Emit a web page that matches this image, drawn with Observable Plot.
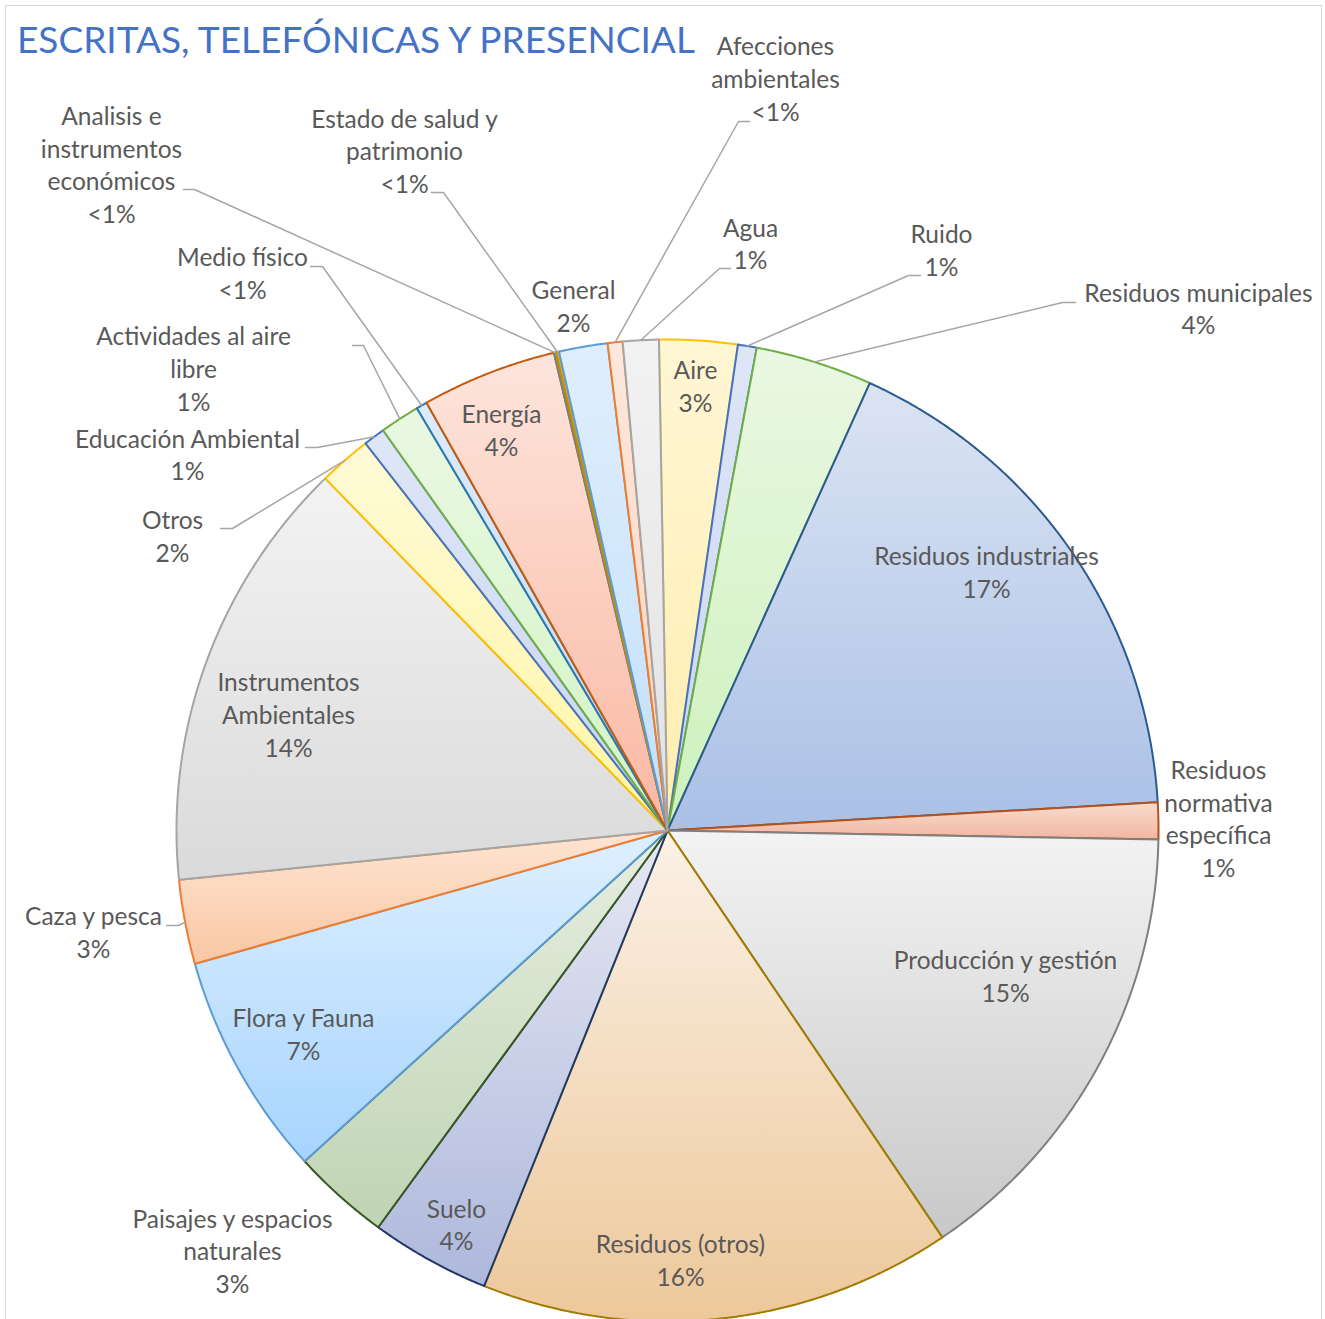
<!DOCTYPE html>
<html>
<head>
<meta charset="utf-8">
<script src="https://cdn.jsdelivr.net/npm/d3@7"></script>
<script src="https://cdn.jsdelivr.net/npm/@observablehq/plot@0.6"></script>
<style>
  body { margin: 0; background: #fff; }
  #wrap { position: relative; width: 1325px; height: 1319px; overflow: hidden; background: #fff; }
  #border { position: absolute; left: 5px; top: 5px; width: 1317px; height: 1340px; border: 1px solid #d9d9d9; box-sizing: border-box; }
  #chart { position: absolute; left: 0; top: 0; }
  #title { position: absolute; left: 17px; top: 20px; font-family: Lato, sans-serif; font-weight: 400; font-size: 37px; color: #4472C4; white-space: nowrap; line-height: 1; }
</style>
</head>
<body>
<div id="wrap">
  <div id="border"></div>
  <div id="chart"></div>
  <div id="title">ESCRITAS, TELEFÓNICAS Y PRESENCIAL</div>
</div>
<script>
// ---- data (clockwise from the top) ----
const categories = [
  "Aire", "Ruido", "Residuos municipales", "Residuos industriales",
  "Residuos normativa específica", "Producción y gestión", "Residuos (otros)",
  "Suelo", "Paisajes y espacios naturales", "Flora y Fauna", "Caza y pesca",
  "Instrumentos Ambientales", "Otros", "Educación Ambiental",
  "Actividades al aire libre", "Medio físico", "Energía",
  "Analisis e instrumentos económicos", "Estado de salud y patrimonio",
  "General", "Afecciones ambientales", "Agua"
];
const values = [
  2.57, 0.62, 3.85, 17.33,
  1.21, 15.26, 15.55,
  3.94, 3.21, 7.39, 2.78,
  14.33, 1.73, 0.71,
  1.31, 0.36, 4.45,
  0.07, 0.10,
  1.60, 0.49, 1.18
];

// ---- styles ----
const strokes = [
  "#FFC000", "#4472C4", "#70AD47", "#2A5A8E",
  "#B5521B", "#7F7F7F", "#A07C00",
  "#203864", "#385723", "#5B9BD5", "#ED7D31",
  "#A5A5A5", "#FFC000", "#4472C4",
  "#70AD47", "#2E75B6", "#C55A11",
  "#7F7F7F", "#BF9000",
  "#5B9BD5", "#ED7D31", "#A5A5A5"
];
const gradTop = [
  "#FFF6D4", "#DEE6F6", "#EAF8E2", "#DCE4F3",
  "#F9DCD0", "#F3F3F3", "#FBF1E6",
  "#E6E8F3", "#E7EEE1", "#DFF0FE", "#FEE5D3",
  "#F3F3F3", "#FFFAD6", "#DEE6F6",
  "#EAF8E2", "#DCEBFA", "#FDE5DC",
  "#D9D9D9", "#D9B43A",
  "#DFEEFC", "#FDE7DC", "#F2F2F2"
];
const gradBottom = [
  "#FFEEB0", "#C8D5F3", "#CDF1BC", "#A9C0E6",
  "#F2B6A0", "#C8C8C8", "#EDC89A",
  "#AEB8DC", "#BFD4B3", "#A6D4FF", "#F9C7A3",
  "#DADADA", "#FFF6A6", "#C8D5F3",
  "#D2F4C4", "#BFDCF7", "#FAB8A2",
  "#BFBFBF", "#BF9000",
  "#C3E0FB", "#FBD3BE", "#E2E2E2"
];

// label layout: block centre (px) and line breaks of the name
const labelLayout = {
  "Aire": {x: 695, y: 387.5, name: "Aire"},
  "Ruido": {x: 941, y: 251.5, name: "Ruido"},
  "Residuos municipales": {x: 1198, y: 310, name: "Residuos municipales"},
  "Residuos industriales": {x: 986, y: 573.5, name: "Residuos industriales"},
  "Residuos normativa específica": {x: 1218, y: 820, name: "Residuos\nnormativa\nespecífica"},
  "Producción y gestión": {x: 1005, y: 977.5, name: "Producción y gestión"},
  "Residuos (otros)": {x: 680, y: 1261.5, name: "Residuos (otros)"},
  "Suelo": {x: 456, y: 1226, name: "Suelo"},
  "Paisajes y espacios naturales": {x: 232, y: 1252.5, name: "Paisajes y espacios\nnaturales"},
  "Flora y Fauna": {x: 303, y: 1035.5, name: "Flora y Fauna"},
  "Caza y pesca": {x: 93, y: 933.5, name: "Caza y pesca"},
  "Instrumentos Ambientales": {x: 288, y: 716, name: "Instrumentos\nAmbientales"},
  "Otros": {x: 172, y: 537.5, name: "Otros"},
  "Educación Ambiental": {x: 187, y: 456, name: "Educación Ambiental"},
  "Actividades al aire libre": {x: 193, y: 370, name: "Actividades al aire\nlibre"},
  "Medio físico": {x: 242, y: 274.5, name: "Medio físico"},
  "Energía": {x: 501, y: 431.5, name: "Energía"},
  "Analisis e instrumentos económicos": {x: 111, y: 166, name: "Analisis e\ninstrumentos\neconómicos"},
  "Estado de salud y patrimonio": {x: 404, y: 152.5, name: "Estado de salud y\npatrimonio"},
  "General": {x: 573, y: 307.5, name: "General"},
  "Afecciones ambientales": {x: 775, y: 80, name: "Afecciones\nambientales"},
  "Agua": {x: 750, y: 245, name: "Agua"}
};
// leader layout: [x at text side, x of elbow, y] in px
const leaderLayout = {
  "Afecciones ambientales": [749, 738, 121],
  "Estado de salud y patrimonio": [431, 443, 192],
  "Analisis e instrumentos económicos": [183, 194, 189],
  "Agua": [730, 719, 268],
  "Ruido": [920, 908, 275],
  "Residuos municipales": [1075, 1062, 302],
  "Medio físico": [310, 322, 266],
  "Actividades al aire libre": [352, 363, 345],
  "Educación Ambiental": [305, 317, 447],
  "Otros": [220, 232, 528],
  "Caza y pesca": [166, 178, 925]
};

// ---- geometry ----
const W = 1325, H = 1319, CX = 667, CY = 830, R = 491;
const startAngle = -1.0 * Math.PI / 180;
const toU = (px, py) => ({x: (px - CX) / R, y: (CY - py) / R});

const total = d3.sum(values);
let acc = startAngle;
const slices = categories.map((name, i) => {
  const a0 = acc, a1 = acc + values[i] / total * 2 * Math.PI;
  acc = a1;
  const n = Math.max(2, Math.ceil((a1 - a0) / (Math.PI / 720)));
  const pts = [{x: 0, y: 0}];
  for (let k = 0; k <= n; k++) {
    const a = a0 + (a1 - a0) * k / n;
    pts.push({x: Math.sin(a), y: Math.cos(a)});
  }
  const pct = values[i] / total * 100;
  const pctText = Math.round(pct) === 0 ? "<1%" : Math.round(pct) + "%";
  return {name, i, a0, a1, mid: (a0 + a1) / 2, pts, pctText};
});

const labels = slices.map(s => {
  const L = labelLayout[s.name];
  const u = toU(L.x, L.y);
  return {x: u.x, y: u.y, text: L.name + "\n" + s.pctText};
});

const leaders = [];
slices.forEach(s => {
  const L = leaderLayout[s.name];
  if (!L) return;
  const p0 = toU(L[0], L[2]), p1 = toU(L[1], L[2]);
  leaders.push({id: s.name, ...p0});
  leaders.push({id: s.name, ...p1});
  leaders.push({id: s.name, x: Math.sin(s.mid), y: Math.cos(s.mid)});
});

const marks = slices.map(s => Plot.line(s.pts, {
  x: "x", y: "y", curve: "linear-closed",
  fill: `url(#g${s.i})`, stroke: strokes[s.i], strokeWidth: 2, strokeLinejoin: "round"
}));
marks.push(Plot.line(leaders, {x: "x", y: "y", z: "id", stroke: "#A6A6A6", strokeWidth: 1.5}));
marks.push(Plot.text(labels, {
  x: "x", y: "y", text: "text", fill: "#595959", fontSize: 24.5, lineHeight: 32.7 / 24.5,
  fontFamily: "Lato", textAnchor: "middle", lineAnchor: "middle", dy: -3
}));

const chart = Plot.plot({
  width: W, height: H, margin: 0,
  x: {domain: [-1, 1], range: [CX - R, CX + R], axis: null},
  y: {domain: [-1, 1], range: [CY + R, CY - R], axis: null},
  style: {background: "transparent", fontFamily: "Lato", overflow: "visible"},
  marks
});

const defs = d3.select(chart).insert("defs", ":first-child");
slices.forEach(s => {
  const g = defs.append("linearGradient").attr("id", `g${s.i}`)
    .attr("x1", 0).attr("y1", 0).attr("x2", 0).attr("y2", 1);
  g.append("stop").attr("offset", "0%").attr("stop-color", gradTop[s.i]);
  g.append("stop").attr("offset", "100%").attr("stop-color", gradBottom[s.i]);
});

document.getElementById("chart").appendChild(chart);
</script>
</body>
</html>
